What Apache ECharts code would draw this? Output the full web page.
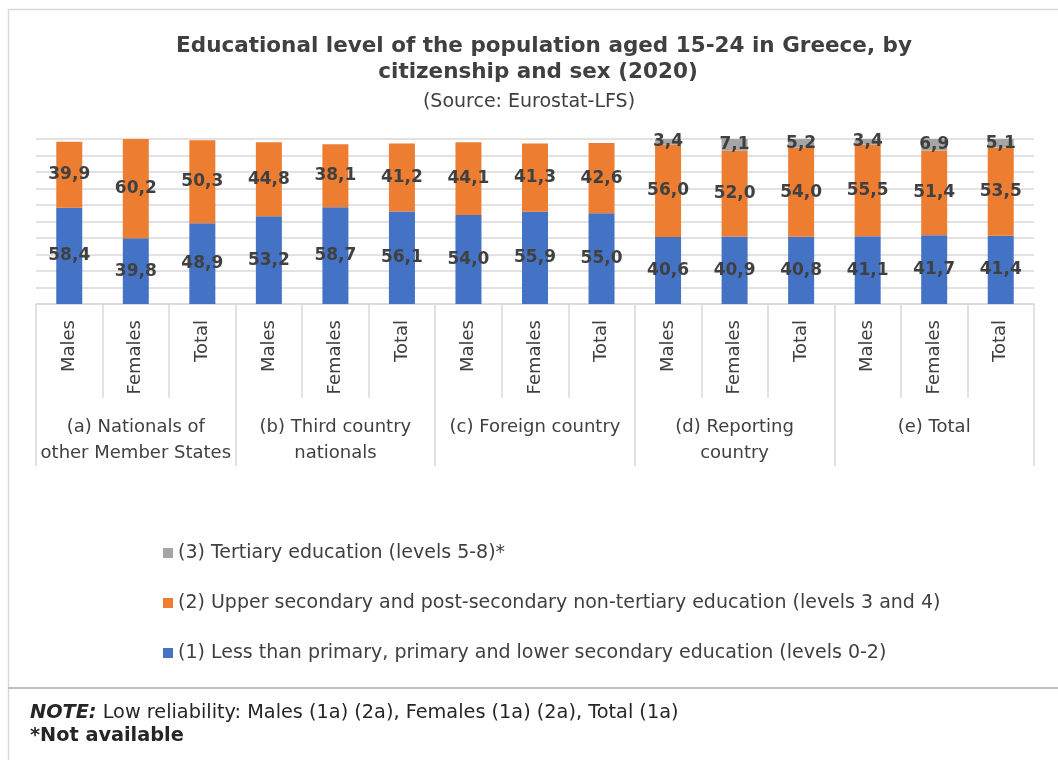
<!DOCTYPE html>
<html>
<head>
<meta charset="utf-8">
<script src="https://cdn.jsdelivr.net/npm/echarts@6/dist/echarts.min.js"></script>
<style>
html,body{margin:0;padding:0;background:#fff;}
#chart{width:1058px;height:760px;}
</style>
</head>
<body>
<div id="chart"></div>
<script>
var sexLabels = ['Males','Females','Total','Males','Females','Total','Males','Females','Total','Males','Females','Total','Males','Females','Total'];
var groupLabels = ['(a) Nationals of\nother Member States','(b) Third country\nnationals','(c) Foreign country','(d) Reporting\ncountry','(e) Total'];
var lowerSecondary = [58.4,39.8,48.9,53.2,58.7,56.1,54.0,55.9,55.0,40.6,40.9,40.8,41.1,41.7,41.4];
var upperSecondary = [39.9,60.2,50.3,44.8,38.1,41.2,44.1,41.3,42.6,56.0,52.0,54.0,55.5,51.4,53.5];
var tertiary = [null,null,null,null,null,null,null,null,null,3.4,7.1,5.2,3.4,6.9,5.1];
var seriesNames = [
  '(1) Less than primary, primary and lower secondary education (levels 0-2)',
  '(2) Upper secondary and post-secondary non-tertiary education (levels 3 and 4)',
  '(3) Tertiary education (levels 5-8)*'
];
var titleLines = ['Educational level of the population aged 15-24 in Greece, by', 'citizenship and sex (2020)'];
var subtitle = '(Source: Eurostat-LFS)';
var noteText = 'Low reliability: Males (1a) (2a), Females (1a) (2a), Total (1a)';
var notAvailable = '*Not available';

var FONT = 'DejaVu Sans';
var grid = '#d9d9d9';
var txt = '#404040';
function fmt(p){ return p.value == null ? '' : Number(p.value).toFixed(1).replace('.', ','); }
function barSeries(name, data, color){
  return {
    name: name, type: 'bar', stack: 'edu', data: data, barWidth: 26,
    itemStyle: {color: color},
    label: {show: true, position: 'inside', formatter: fmt, color: txt,
            fontFamily: FONT, fontWeight: 'bold', fontSize: 17}
  };
}
function centerText(str, x, y, size, weight){
  return {type: 'text', x: x, y: y, style: {
    text: str, fontFamily: FONT, fontSize: size, fontWeight: weight, fill: txt,
    align: 'center', verticalAlign: 'middle', textAlign: 'center', textVerticalAlign: 'middle'
  }};
}
function leftText(str, y, size, weight, rich){
  var s = {text: str, fontFamily: FONT, fontSize: size, fontWeight: weight, fill: '#262626',
    align: 'left', verticalAlign: 'middle', textAlign: 'left', textVerticalAlign: 'middle'};
  if (rich) s.rich = rich;
  return {type: 'text', x: 30, y: y, style: s};
}

var chart = echarts.init(document.getElementById('chart'), null, {renderer: 'canvas'});
chart.setOption({
  animation: false,
  textStyle: {fontFamily: FONT},
  legend: {
    orient: 'vertical', left: 158, top: 538,
    itemWidth: 10, itemHeight: 10, itemGap: 30, icon: 'rect',
    data: [seriesNames[2], seriesNames[1], seriesNames[0]],
    textStyle: {fontFamily: FONT, fontSize: 19, lineHeight: 20, color: txt}
  },
  grid: {left: 36, right: 24, top: 139, bottom: 456, containLabel: false},
  xAxis: [
    {
      type: 'category', data: sexLabels, position: 'bottom',
      axisLine: {show: true, lineStyle: {color: grid, width: 1.5}},
      axisTick: {show: true, length: 94, interval: 0, lineStyle: {color: grid, width: 1.5}},
      axisLabel: {interval: 0, rotate: 90, margin: 16, fontFamily: FONT, fontSize: 18, color: txt}
    },
    {
      type: 'category', data: groupLabels, position: 'bottom',
      axisLine: {show: false},
      axisTick: {show: true, length: 162, interval: 0, lineStyle: {color: grid, width: 1.5}},
      axisLabel: {interval: 0, margin: 110, fontFamily: FONT, fontSize: 18, lineHeight: 26, color: txt}
    }
  ],
  yAxis: {
    type: 'value', min: 0, max: 100, interval: 10,
    axisLabel: {show: false}, axisLine: {show: false}, axisTick: {show: false},
    splitLine: {lineStyle: {color: grid, width: 1.5}}
  },
  series: [
    barSeries(seriesNames[0], lowerSecondary, '#4472C4'),
    barSeries(seriesNames[1], upperSecondary, '#ED7D31'),
    barSeries(seriesNames[2], tertiary, '#A5A5A5')
  ],
  graphic: [
    {type: 'line', shape: {x1: 8, y1: 9.5, x2: 1058, y2: 9.5}, style: {stroke: '#d9d9d9', lineWidth: 1.5}},
    {type: 'line', shape: {x1: 8.5, y1: 9, x2: 8.5, y2: 760}, style: {stroke: '#d9d9d9', lineWidth: 1.5}},
    {type: 'line', shape: {x1: 8, y1: 688, x2: 1058, y2: 688}, style: {stroke: '#bfbfbf', lineWidth: 2}},
    centerText(titleLines[0], 544, 46, 21.5, 'bold'),
    centerText(titleLines[1], 538, 72, 21.5, 'bold'),
    centerText(subtitle, 529, 102, 19, 'normal'),
    leftText('{b|NOTE:} ' + noteText, 713, 19.3, 'normal',
      {b: {fontFamily: FONT, fontSize: 19.3, fontWeight: 'bold', fontStyle: 'italic', fill: '#262626'}}),
    leftText(notAvailable, 736, 19.3, 'bold')
  ]
});
</script>
</body>
</html>
